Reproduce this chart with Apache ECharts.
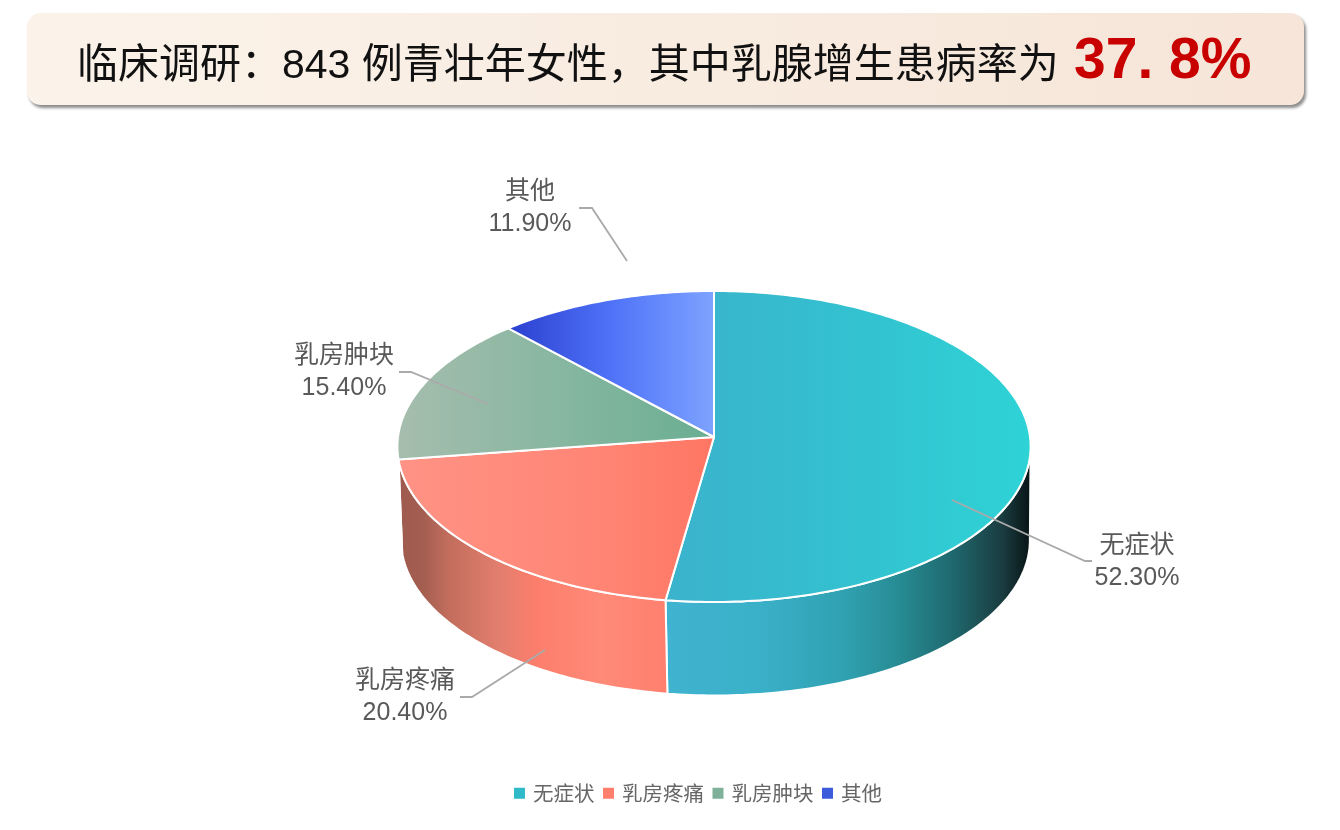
<!DOCTYPE html>
<html><head><meta charset="utf-8">
<style>html,body{margin:0;padding:0;background:#fff}#c{width:1340px;height:830px}</style>
<script src="https://cdn.jsdelivr.net/npm/echarts@6/dist/echarts.min.js"></script>
</head><body><div id="c"></div>
<script>
const categories = ['无症状','乳房疼痛','乳房肿块','其他'];
const values = [52.3,20.4,15.4,11.9];
const titleText = '临床调研：843 例青壮年女性，其中乳腺增生患病率为';
const titleHighlight = '37. 8%';

const C = {x:714,y:437,rx:316,ry:154.9,k:0.0611,depth:93.5,brx:0.993,bdx:1.5};
const topGrad = [
  [[0,'#3bb2cc'],[0.45,'#34bfcf'],[1,'#2ed3d6']],
  [[0,'#ff9385'],[0.6,'#ff8676'],[1,'#ff7663']],
  [[0,'#a6bdad'],[0.5,'#88b7a1'],[1,'#69ae92']],
  [[0,'#2a3fce'],[0.5,'#4f72f8'],[1,'#7ea3ff']]
];
const sideGrad = [
  [[0,'#40b3d0'],[0.26,'#3ab0c8'],[0.5,'#2fa0b0'],[0.64,'#278b93'],[0.78,'#1f6a70'],[0.92,'#1a3c40'],[1,'#071214']],
  [[0,'#9e5a4e'],[0.1,'#a55f51'],[0.18,'#c06c5c'],[0.37,'#e27e6e'],[0.52,'#fd7e6c'],[0.75,'#ff8a78'],[1,'#ff7f6e']],
  [[0,'#8a9a90'],[1,'#5a7a6c']],
  [[0,'#23339a'],[1,'#4a66c8']]
];
const legendColors = ['#2fb9c9','#ff7f6c','#7eb09a','#3b5bdb'];
const labelBox = [[1137,561],[405,696],[344,371],[530,207]].map(p=>[p[0],p[1]+1]);
const leaders = [
  [[952,500],[1085,561],[1092,561]],
  [[545,650],[472,697],[460,697]],
  [[488,404],[411,372],[399,372]],
  [[627,261],[592,208],[579,208]]
];
const total = values.reduce((a,b)=>a+b,0);
const starts = []; values.reduce((a,b,i)=>{starts[i]=a;return a+b},0);

function proj(t,bottom){
  const u=Math.sin(t),v=Math.cos(t),d=1+C.k*v;
  const s=bottom?C.brx:1;
  return [C.x+(bottom?C.bdx:0)+C.rx*s*u/d, C.y-C.ry*v/d+(bottom?C.depth:0)];
}
function arc(a,b,bottom){
  const n=Math.max(4,Math.ceil((b-a)/(Math.PI/180)));const p=[];
  for(let i=0;i<=n;i++)p.push(proj(a+(b-a)*i/n,bottom));
  return p;
}
function grad(stops){
  return new echarts.graphic.LinearGradient(0,0,1,0,stops.map(s=>({offset:s[0],color:s[1]})));
}
const frontStart=Math.acos(-C.k), frontEnd=2*Math.PI-frontStart;
function render(i){
  return function(params,api){
    const val=api.value(0);
    const a=starts[i]/total*2*Math.PI,b=(starts[i]+val)/total*2*Math.PI;
    const topArc=arc(a,b,false);
    const fa=Math.max(a,frontStart),fb=Math.min(b,frontEnd);
    const L=labelBox[i];
    const children=[];
    if(fb>fa){
      children.push({type:'polygon',z2:1,shape:{points:arc(fa,fb,false).concat(arc(fa,fb,true).reverse())},
        style:{fill:grad(sideGrad[i]),stroke:'#fff',lineWidth:2,lineJoin:'round'}});
    }
    children.push(
      {type:'polygon',z2:10,shape:{points:[[C.x,C.y]].concat(topArc)},
        style:{fill:grad(topGrad[i]),stroke:'#fff',lineWidth:2,lineJoin:'round'}},
      {type:'polyline',z2:20,shape:{points:leaders[i]},
        style:{fill:'none',stroke:'#aaaaaa',lineWidth:1.8}},
      {type:'text',z2:21,style:{text:categories[i]+'\n'+val.toFixed(2)+'%',x:L[0],y:L[1],
        textAlign:'center',textVerticalAlign:'middle',lineHeight:32,
        font:'25px "Liberation Sans","Noto Sans CJK SC",sans-serif',fill:'#595959'}}
    );
    return {type:'group',children};
  };
}
const chart=echarts.init(document.getElementById('c'),null,{renderer:'canvas'});
chart.setOption({
  animation:false,
  backgroundColor:'#fff',
  color:legendColors,
  legend:{
    left:509,top:778,icon:'rect',itemWidth:11,itemHeight:11,itemGap:8.5,
    textStyle:{fontSize:20.5,color:'#666',padding:[0,0,0,3],fontFamily:'"Noto Sans CJK SC",sans-serif'},
    data:categories
  },
  graphic:[
    {type:'rect',silent:true,shape:{x:27,y:13,width:1277,height:92,r:14},z:0,
     style:{fill:new echarts.graphic.LinearGradient(0,0,1,0,[{offset:0,color:'#fbf3ea'},{offset:1,color:'#f6e5d8'}]),
       shadowBlur:3,shadowOffsetX:2,shadowOffsetY:3,shadowColor:'rgba(0,0,0,0.45)'}},
    {type:'text',silent:true,z:1,style:{text:titleText,x:77,y:67,textVerticalAlign:'middle',
       font:'41px "Liberation Sans","Noto Sans CJK SC",sans-serif',fill:'#111'}},
    {type:'text',silent:true,z:1,style:{text:titleHighlight,x:1074,y:62,textVerticalAlign:'middle',
       font:'bold 57px "Liberation Sans",sans-serif',fill:'#c80000'}}
  ],
  series:categories.map((name,i)=>({
    type:'custom',name,coordinateSystem:'none',silent:true,
    itemStyle:{color:legendColors[i]},
    data:[[values[i]]],
    renderItem:render(i)
  }))
});
</script></body></html>
